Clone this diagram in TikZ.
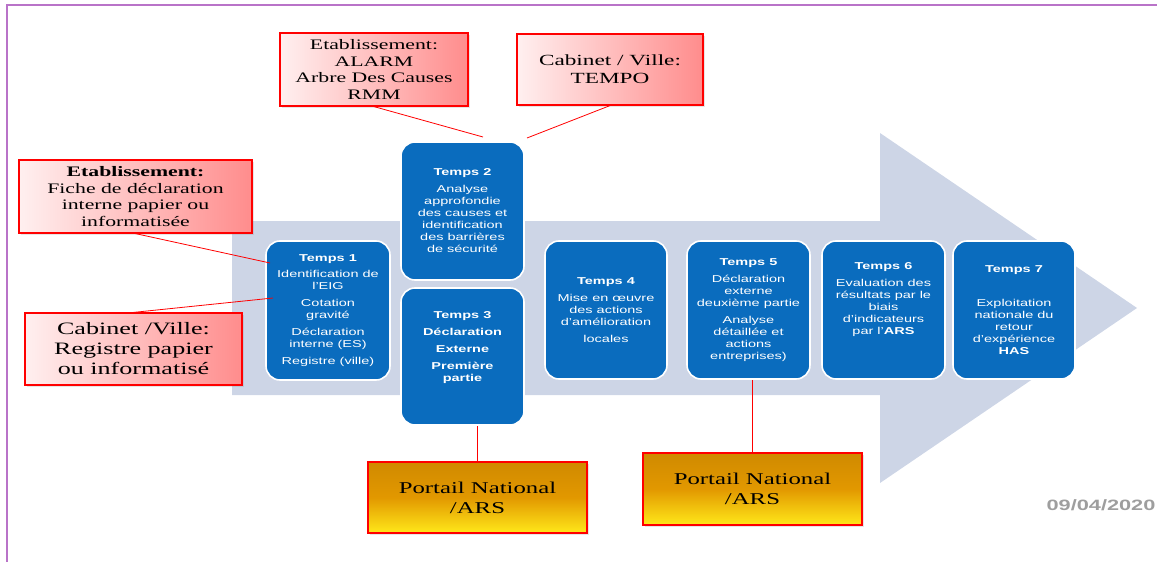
\documentclass[tikz,border=0pt]{standalone}
\usepackage{fontspec}
\setmainfont{Liberation Serif}[FakeStretch=1.5]
\setsansfont{Liberation Sans}[FakeStretch=1.45]
\usetikzlibrary{calc,shadows}

\definecolor{tempsblue}{RGB}{10,108,190}
\definecolor{flechegris}{RGB}{205,213,230}
\definecolor{cadreviolet}{RGB}{185,115,200}
\definecolor{orfonce}{RGB}{208,138,0}
\definecolor{ormilieu}{RGB}{226,152,0}
\definecolor{orclair}{RGB}{255,232,26}

\tikzset{
  temps/.style={draw=white, line width=1.6pt, fill=tempsblue, rounded corners=14pt,
    text=white, align=center, inner sep=1pt,
    font=\sffamily\fontsize{10}{12}\selectfont},
  outil/.style={draw=red, line width=1.2pt, left color=red!6, right color=red!45,
    align=center, inner sep=2pt, font=\fontsize{14.5}{16.7}\selectfont,
    drop shadow={opacity=0.2, shadow xshift=1.5pt, shadow yshift=-1.5pt}},
  portail/.style={draw=red, line width=1.2pt, top color=orfonce, bottom color=orclair,
    middle color=ormilieu, align=center, inner sep=2pt,
    font=\fontsize{16.5}{20}\selectfont,
    drop shadow={opacity=0.2, shadow xshift=1.5pt, shadow yshift=-1.5pt}},
  lien/.style={red, line width=0.8pt}
}

\begin{document}
\begin{tikzpicture}[x=1pt, y=-1pt]
  \useasboundingbox (0,0) rectangle (1157,562);
  % cadre
  \draw[cadreviolet, line width=1.5pt] (7,562) -- (7,5) -- (1157,5);
  % grande fleche
  \fill[flechegris] (232,221) -- (880,221) -- (880,133) -- (1137,308)
    -- (880,483) -- (880,395) -- (232,395) -- cycle;

  % les sept temps
  \node[temps, minimum width=124pt, minimum height=139pt] (t1) at (328,310.5)
    {\textbf{Temps 1}\\[4pt] Identification de\\ l’EIG\\[5pt] Cotation\\ gravité\\[5pt]
     Déclaration\\ interne (ES)\\[5pt] Registre (ville)};
  \node[temps, minimum width=123pt, minimum height=138pt] (t2) at (462.5,211)
    {\textbf{Temps 2}\\[5pt] Analyse\\ approfondie\\ des causes et\\ identification\\
     des barrières\\ de sécurité};
  \node[temps, minimum width=123pt, minimum height=137pt] (t3) at (462.5,356.5)
    {\textbf{Temps 3}\\[5pt] \textbf{Déclaration}\\[5pt] \textbf{Externe}\\[5pt]
     \textbf{Première}\\ \textbf{partie}\\[5pt] \strut};
  \node[temps, minimum width=122pt, minimum height=138pt] (t4) at (606,310)
    {\textbf{Temps 4}\\[5pt] Mise en œuvre\\ des actions\\ d’amélioration\\[5pt] locales};
  \node[temps, minimum width=123pt, minimum height=138pt] (t5) at (748.5,310)
    {\textbf{Temps 5}\\[5pt] Déclaration\\ externe\\ deuxième partie\\[5pt] Analyse\\
     détaillée et\\ actions\\ entreprises)};
  \node[temps, minimum width=123pt, minimum height=138pt] (t6) at (883.5,310)
    {\textbf{Temps 6}\\[5pt] Evaluation des\\ résultats par le\\ biais\\ d’indicateurs\\
     par l’\textbf{ARS}\\[7pt] \strut};
  \node[temps, minimum width=122pt, minimum height=138pt] (t7) at (1014,310)
    {\textbf{Temps 7}\\[22pt] Exploitation\\ nationale du\\ retour\\ d’expérience\\
     \textbf{HAS}};

  % outils
  \node[outil, minimum width=188pt, minimum height=73pt] (alarm) at (374,69.5)
    {Etablissement:\\ ALARM\\ Arbre Des Causes\\ RMM};
  \node[outil, minimum width=186pt, minimum height=71pt,
    font=\fontsize{15.5}{18}\selectfont] (tempo) at (610,69.5)
    {Cabinet / Ville:\\ TEMPO};
  \node[outil, minimum width=233pt, minimum height=73pt] (fiche) at (135.5,196.5)
    {\textbf{Etablissement:}\\ Fiche de déclaration\\ interne papier ou\\ informatisée};
  \node[outil, minimum width=217pt, minimum height=72pt,
    font=\fontsize{17.4}{20}\selectfont] (registre) at (133.5,349)
    {Cabinet /Ville:\\ Registre papier\\ ou informatisé};
  \node[portail, minimum width=219pt, minimum height=71pt] (portail1) at (477.5,497.5)
    {Portail National\\ /ARS};
  \node[portail, minimum width=219pt, minimum height=72pt] (portail2) at (752.5,489)
    {Portail National\\ /ARS};

  % liens
  \coordinate (c2a) at (483,137);
  \coordinate (c2b) at (527,138);
  \coordinate (c1a) at (270,263);
  \coordinate (c1b) at (273,298);
  \draw[lien] (alarm.south) -- (c2a);
  \draw[lien] (tempo.south) -- (c2b);
  \draw[lien] (fiche.south) -- (c1a);
  \draw[lien] (registre.north) -- (c1b);
  \draw[lien] (portail1.north) -- (portail1.north |- t3.south);
  \draw[lien] (portail2.north) -- (portail2.north |- t5.south);

  % date
  \node[font=\sffamily\bfseries\fontsize{15}{15}\selectfont, text=black!38] (date)
    at (1101,505) {09/04/2020};
\end{tikzpicture}
\end{document}
